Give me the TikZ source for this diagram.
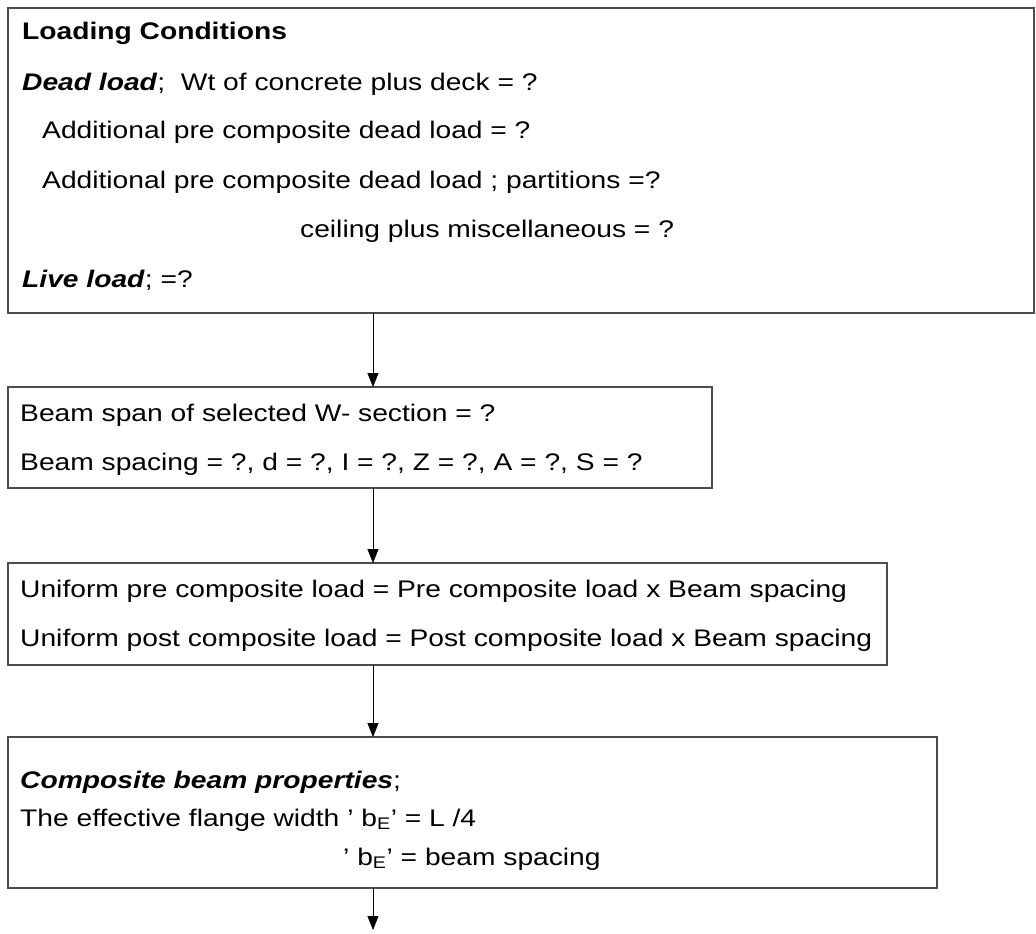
\documentclass[tikz,border=0pt]{standalone}
\usepackage{fontspec}
\setmainfont[FakeStretch=1.175]{Liberation Sans}
\usetikzlibrary{arrows.meta}
\usetikzlibrary{positioning}

\tikzset{
  stepbox/.style={draw=black!70, line width=1.6pt, rectangle, inner sep=0pt, outer sep=0pt, anchor=north west},
  txt/.style={anchor=base west, inner sep=0pt, font=\fontsize{24}{28}\selectfont},
}

\begin{document}
\begin{tikzpicture}[x=1pt,y=-1pt,>={Triangle[length=14pt,width=11pt]}]
    \useasboundingbox (0,0) rectangle (1036,934);

    % boxes
    \node[stepbox, minimum width=1026pt, minimum height=305pt] (loads) at (8,8) {};
    \node[stepbox, minimum width=704pt, minimum height=101pt] (beam) at (8,387) {};
    \node[stepbox, minimum width=879pt, minimum height=102pt] (uniform) at (8,563) {};
    \node[stepbox, minimum width=929pt, minimum height=151pt] (composite) at (8,737) {};

    % loading conditions
    \node[txt] (loadtitle) at (22,40) {\textbf{Loading Conditions}};
    \node[txt] (deadload) at (22,90) {\textbf{\textit{Dead load}};\ \ Wt of concrete plus deck = ?};
    \node[txt] (addload) at (42,138) {Additional pre composite dead load = ?};
    \node[txt] (partload) at (42,188) {Additional pre composite dead load ; partitions =?};
    \node[txt] (ceilload) at (300,237) {ceiling plus miscellaneous = ?};
    \node[txt] (liveload) at (22,287) {\textbf{\textit{Live load}}; =?};

    % beam data
    \node[txt] (beamspan) at (20,421) {Beam span of selected W- section = ?};
    \node[txt] (beamspc) at (20,470) {Beam spacing = ?, d = ?, I = ?, Z = ?, A = ?, S = ?};

    % uniform loads
    \node[txt] (unipre) at (20,597) {Uniform pre composite load = Pre composite load x Beam spacing};
    \node[txt] (unipost) at (20,646) {Uniform post composite load = Post composite load x Beam spacing};

    % composite beam
    \node[txt] (comptitle) at (20,788) {\textbf{\textit{Composite beam properties}};};
    \node[txt] (flange) at (20,826) {The effective flange width ' b\textsubscript{E}' = L /4};
    \node[txt] (flangespc) at (343,865) {' b\textsubscript{E}' = beam spacing};

    \coordinate (arrowx) at (373,0);
    \coordinate (next) at (373,930);

    \draw[->] (loads.south -| arrowx) -- (beam.north -| arrowx);
    \draw[->] (beam.south -| arrowx) -- (uniform.north -| arrowx);
    \draw[->] (uniform.south -| arrowx) -- (composite.north -| arrowx);
    \draw[->] (composite.south -| arrowx) -- (next);
\end{tikzpicture}
\end{document}
